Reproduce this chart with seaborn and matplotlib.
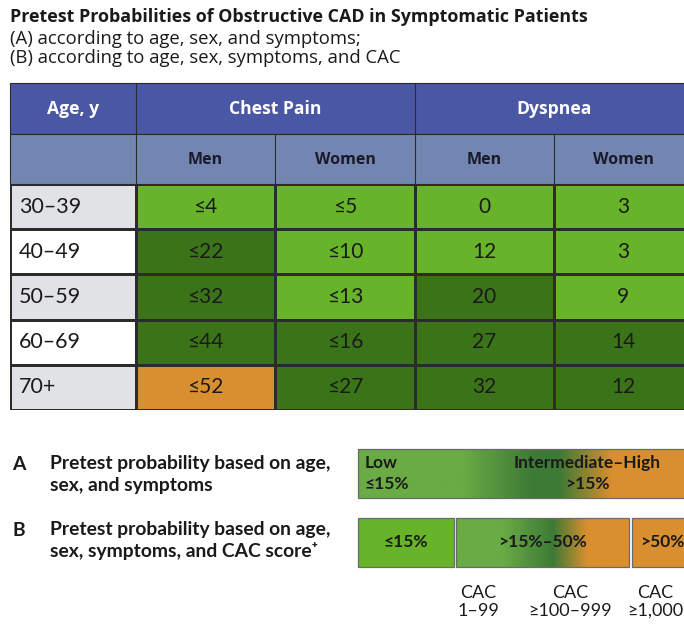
import numpy as np
import pandas as pd
import seaborn as sns
import matplotlib.pyplot as plt
from matplotlib.colors import ListedColormap, LinearSegmentedColormap
from matplotlib.patches import Rectangle

# dados da tabela
idades = ["30–39", "40–49", "50–59", "60–69", "70+"]
sintomas = ["Chest Pain", "Dyspnea"]
sexos = ["Men", "Women"]
dor_homens = ["≤4", "≤22", "≤32", "≤44", "≤52"]
dor_mulheres = ["≤5", "≤10", "≤13", "≤16", "≤27"]
disp_homens = ["0", "12", "20", "27", "32"]
disp_mulheres = ["3", "3", "9", "14", "12"]
# 0 = baixo (<=15%), 1 = intermediario, 2 = alto (>50%)
risco_dor_homens = [0, 1, 1, 1, 2]
risco_dor_mulheres = [0, 0, 0, 1, 1]
risco_disp_homens = [0, 0, 1, 1, 1]
risco_disp_mulheres = [0, 0, 0, 1, 1]

faixas_cac = ["CAC\n1–99", "CAC\n≥100–999", "CAC\n≥1,000"]

VERDE = "#67b42a"
VERDE_ESC = "#3b7418"
LARANJA = "#d98f2f"
AZUL = "#4a57a5"
AZUL_CLARO = "#7286b1"
CINZA = "#e1e2e5"
LINHA = "#2b2b2b"

sns.set_style("white")
plt.rcParams['font.family'] = ['Lato', 'DejaVu Sans']

W, H = 684, 624
fig = plt.figure(figsize=(W / 100, H / 100), dpi=100)

def eixo(x0, y0, x1, y1):
    return fig.add_axes([x0 / W, 1 - y1 / H, (x1 - x0) / W, (y1 - y0) / H])

ax = fig.add_axes([0, 0, 1, 1])
ax.set_xlim(0, W)
ax.set_ylim(H, 0)
ax.axis('off')

# titulo
ax.text(10, 17, "Pretest Probabilities of Obstructive CAD in Symptomatic Patients",
        family=['Open Sans', 'DejaVu Sans'], weight='bold', fontsize=12.9,
        color='#1a1a1a', va='center')
ax.text(10, 39, "(A) according to age, sex, and symptoms;",
        family=['Open Sans', 'DejaVu Sans'], fontsize=13.3, color='#1a1a1a', va='center')
ax.text(10, 58, "(B) according to age, sex, symptoms, and CAC",
        family=['Open Sans', 'DejaVu Sans'], fontsize=13.3, color='#1a1a1a', va='center')

# cabecalho
cols = [10, 136, 275, 415, 554, 693]
rows = [83, 134, 184, 410]
ax.add_patch(Rectangle((cols[0], rows[0]), cols[-1] - cols[0], rows[1] - rows[0],
                       facecolor=AZUL, edgecolor=LINHA, lw=0.8))
ax.add_patch(Rectangle((cols[0], rows[1]), cols[-1] - cols[0], rows[2] - rows[1],
                       facecolor=AZUL_CLARO, edgecolor=LINHA, lw=0.8))
for x in cols[1:-1]:
    y_top = rows[0] if x in (cols[1], cols[3]) else rows[1]
    ax.plot([x, x], [y_top, rows[2]], color=LINHA, lw=0.8)

fonte_cab = dict(family=['Open Sans', 'DejaVu Sans'], weight='bold',
                 ha='center', va='center')
ax.text((cols[0] + cols[1]) / 2, 109, "Age, y", color='white', fontsize=12.6, **fonte_cab)
for i, s in enumerate(sintomas):
    ax.text((cols[1 + 2 * i] + cols[3 + 2 * i]) / 2, 109, s, color='white',
            fontsize=12.6, **fonte_cab)
    for j, sx in enumerate(sexos):
        k = 1 + 2 * i + j
        ax.text((cols[k] + cols[k + 1]) / 2, 160, sx, color='#1a1a2a',
                fontsize=11.5, **fonte_cab)

# coluna de idade
ax_idade = eixo(cols[0], rows[2], cols[1], rows[3])
sns.heatmap(pd.DataFrame({"idade": [0, 1, 0, 1, 0]}, index=idades), ax=ax_idade,
            cmap=ListedColormap([CINZA, "#ffffff"]), vmin=0, vmax=1, cbar=False,
            linewidths=0.8, linecolor=LINHA, xticklabels=False, yticklabels=False)
for i, a in enumerate(idades):
    ax_idade.text(0.07, i + 0.5, a, ha='left', va='center', fontsize=15.5, color='#1a1a1a')

# corpo da tabela
risco = pd.DataFrame({"dm": risco_dor_homens, "dw": risco_dor_mulheres,
                      "sm": risco_disp_homens, "sw": risco_disp_mulheres}, index=idades)
rotulos = np.array([dor_homens, dor_mulheres, disp_homens, disp_mulheres]).T
ax_corpo = eixo(cols[1], rows[2], cols[-1], rows[3])
sns.heatmap(risco, ax=ax_corpo, cmap=ListedColormap([VERDE, VERDE_ESC, LARANJA]),
            vmin=-0.5, vmax=2.5, cbar=False, annot=rotulos, fmt="",
            annot_kws=dict(fontsize=15, color='#1a1a1a'),
            linewidths=0.8, linecolor=LINHA, xticklabels=False, yticklabels=False)

# barras de legenda
grad_a = LinearSegmentedColormap.from_list("a", [(0, "#6aab45"), (0.31, "#6aab45"),
                                                 (0.52, "#3d7a35"), (0.6, "#3d7a35"),
                                                 (0.76, LARANJA), (1, LARANJA)])
grad_b = LinearSegmentedColormap.from_list("b", [(0, "#6aab45"), (0.27, "#6aab45"),
                                                 (0.56, "#3d7a35"), (0.76, LARANJA),
                                                 (1, LARANJA)])
faixa = np.linspace(0, 1, 256)[None, :]
ax.imshow(faixa, cmap=grad_a, extent=(358, 693, 498, 449), aspect='auto')
ax.add_patch(Rectangle((358, 449), 335, 49, fill=False, edgecolor='#6a6a6a', lw=0.9))
ax.add_patch(Rectangle((358, 518), 96, 49, facecolor=VERDE, edgecolor='#6a6a6a', lw=0.9))
ax.imshow(faixa, cmap=grad_b, extent=(456, 629, 567, 518), aspect='auto')
ax.add_patch(Rectangle((456, 518), 173, 49, fill=False, edgecolor='#6a6a6a', lw=0.9))
ax.add_patch(Rectangle((632, 518), 61, 49, facecolor=LARANJA, edgecolor='#6a6a6a', lw=0.9))
ax.set_xlim(0, W)
ax.set_ylim(H, 0)

fonte_b = dict(weight='bold', fontsize=12.5, color='#1a1a1a', va='center')
ax.text(365, 463, "Low", ha='left', **fonte_b)
ax.text(365, 484, "≤15%", ha='left', **fonte_b)
ax.text(587, 463, "Intermediate–High", ha='center', **fonte_b)
ax.text(587, 484, ">15%", ha='center', **fonte_b)
ax.text(406, 542, "≤15%", ha='center', **fonte_b)
ax.text(542, 542, ">15%–50%", ha='center', **fonte_b)
ax.text(632 + 30, 542, ">50%", ha='center', **fonte_b)

fonte_l = dict(weight='bold', fontsize=13.9, color='#1a1a1a', va='center', ha='left')
ax.text(12, 464, "A", **fonte_l)
ax.text(50, 464, "Pretest probability based on age,", **fonte_l)
ax.text(50, 485, "sex, and symptoms", **fonte_l)
ax.text(12, 530, "B", **fonte_l)
ax.text(50, 530, "Pretest probability based on age,", **fonte_l)
ax.text(50, 551, "sex, symptoms, and CAC score⁺", **fonte_l)

for x, r in zip([478, 570, 655], faixas_cac):
    ax.text(x, 602, r, ha='center', va='center', fontsize=13, color='#1a1a1a',
            linespacing=1.15)

fig.savefig("out.png", dpi=100)
